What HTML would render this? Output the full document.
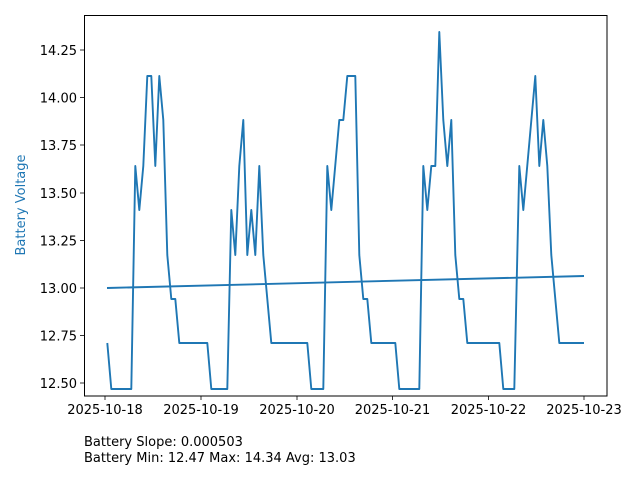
<!DOCTYPE html>
<html><head><meta charset="utf-8"><style>body{margin:0;background:#fff}svg text{font-family:"DejaVu Sans","Liberation Sans",sans-serif}</style></head><body>
<svg width="640" height="480" xmlns="http://www.w3.org/2000/svg">
<rect width="640" height="480" fill="#fff"/>
<polyline fill="none" stroke="#1f77b4" stroke-width="1.9" stroke-linejoin="round" points="107.3,343 111.3,389 131.3,389 135.3,166 139.3,210 143.3,166 147.3,76 151.3,76 155.3,166 159.3,76 163.3,120 167.3,255 171.3,299 175.3,299 179.3,343 207.3,343 211.3,389 227.3,389 231.3,210 235.3,255 239.3,166 243.3,120 247.3,255 251.3,210 255.3,255 259.3,166 263.3,255 271.3,343 307.3,343 311.3,389 323.3,389 327.3,166 331.3,210 339.3,120 343.3,120 347.3,76 355.3,76 359.3,255 363.3,299 367.3,299 371.3,343 395.3,343 399.3,389 419.3,389 423.3,166 427.3,210 431.3,166 435.3,166 439.3,32 443.3,120 447.3,166 451.3,120 455.3,255 459.3,299 463.3,299 467.3,343 499.3,343 503.3,389 514.3,389 519.3,166 523.3,210 535.3,76 539.3,166 543.3,120 547.3,166 551.3,255 559.3,343 584,343"/>
<line x1="107" y1="288" x2="584" y2="276" stroke="#1f77b4" stroke-width="1.9"/>
<rect x="84.5" y="15.5" width="522.5" height="380.5" fill="none" stroke="#000" stroke-width="1"/>
<g stroke="#000" stroke-width="0.8">
<line x1="84" y1="50" x2="80" y2="50"/><line x1="84" y1="97.5" x2="80" y2="97.5"/><line x1="84" y1="145" x2="80" y2="145"/><line x1="84" y1="193" x2="80" y2="193"/><line x1="84" y1="240.5" x2="80" y2="240.5"/><line x1="84" y1="288" x2="80" y2="288"/><line x1="84" y1="335.5" x2="80" y2="335.5"/><line x1="84" y1="383" x2="80" y2="383"/>
<line x1="105" y1="396" x2="105" y2="400"/><line x1="201" y1="396" x2="201" y2="400"/><line x1="297" y1="396" x2="297" y2="400"/><line x1="392.5" y1="396" x2="392.5" y2="400"/><line x1="488.5" y1="396" x2="488.5" y2="400"/><line x1="584" y1="396" x2="584" y2="400"/>
</g>
<g font-size="13" text-anchor="end" fill="#000">
<text x="77" y="55">14.25</text><text x="77" y="102.5">14.00</text><text x="77" y="150">13.75</text><text x="77" y="198">13.50</text><text x="77" y="245.5">13.25</text><text x="77" y="293">13.00</text><text x="77" y="340.5">12.75</text><text x="77" y="388">12.50</text>
</g>
<g font-size="13" text-anchor="middle" fill="#000">
<text x="105" y="414">2025-10-18</text><text x="201" y="414">2025-10-19</text><text x="297" y="414">2025-10-20</text><text x="392.5" y="414">2025-10-21</text><text x="488.5" y="414">2025-10-22</text><text x="584" y="414">2025-10-23</text>
</g>
<text x="25" y="205" font-size="13" fill="#1f77b4" text-anchor="middle" transform="rotate(-90 25 205)">Battery Voltage</text>
<text x="84" y="446" font-size="13" fill="#000">Battery Slope: 0.000503</text>
<text x="84" y="462" font-size="13" fill="#000">Battery Min: 12.47 Max: 14.34 Avg: 13.03</text>
</svg>
</body></html>
